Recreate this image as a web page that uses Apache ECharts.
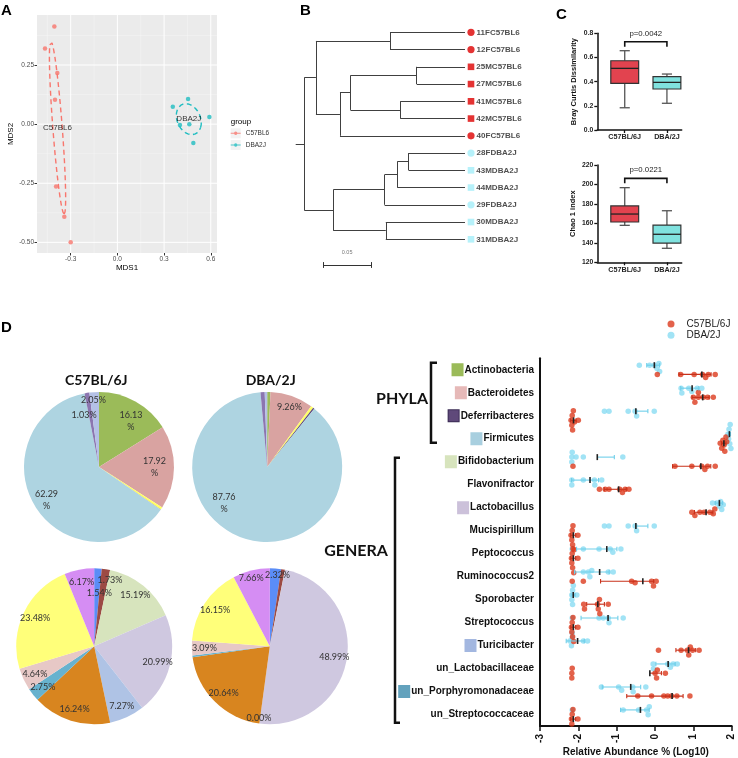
<!DOCTYPE html>
<html><head><meta charset="utf-8">
<script src="https://cdn.jsdelivr.net/npm/echarts@6/dist/echarts.min.js"></script>
<style>html,body{margin:0;padding:0;background:#fff}#c{width:738px;height:758px}</style>
</head><body><div id="c"></div>
<script>
// ---------------- DATA ----------------
// Panel A (MDS)
const mdsC57 = [[-0.405,0.413],[-0.465,0.320],[-0.386,0.216],[-0.401,0.103],[-0.394,-0.264],[-0.341,-0.392],[-0.300,-0.500]];
const mdsDBA = [[0.356,0.074],[0.454,0.106],[0.591,0.030],[0.402,-0.004],[0.462,0.000],[0.488,-0.080]];
const mdsXTicks = [-0.3, 0, 0.3, 0.6];
const mdsYTicks = [-0.5, -0.25, 0, 0.25];
const mdsGroups = ['C57BL6','DBA2J'];

// Panel B (dendrogram): tips top-to-bottom, nodes = [height, child, child...]
const treeTips = ['11FC57BL6','12FC57BL6','25MC57BL6','27MC57BL6','41MC57BL6','42MC57BL6','40FC57BL6','28FDBA2J','43MDBA2J','44MDBA2J','29FDBA2J','30MDBA2J','31MDBA2J'];
const treeNodes = [0.1684,
  [0.1562, [0.0786, 0, 1], [0.131, [0.120, [0.0506, 2, 3], [0.0678, 4, 5]], 6]],
  [0.138, [0.0842, [0.071, [0.059, 7, 8], 9], 10], [0.083, 11, 12]]];
const rootEdge = 0.009;
const scaleBarLen = 0.05;

// Panel C (box plots): [min, Q1, median, Q3, max]
const boxGroups = ['C57BL/6J','DBA/2J'];
const brayBox = [[0.184,0.386,0.510,0.573,0.656],[0.221,0.339,0.394,0.441,0.463]];
const chaoBox = [[158.0,161.4,169.6,177.9,196.7],[134.4,139.8,148.8,158.3,173.0]];
const brayP = 'p=0.0042', brayBracket = [0.730, 0.689];
const chaoP = 'p=0.0221', chaoBracket = [206.3, 201.2];

// Panel D pies (%)
const phylaNames = ['Actinobacteria','Bacteroidetes','Other phylum','Deferribacteres','Firmicutes','Other phylum 2','Other phylum 3'];
const phylaC57 = [16.13, 17.92, 0.56, 0.01, 62.29, 1.03, 2.05];
const phylaDBA = [0.70, 9.26, 0.55, 0.30, 87.76, 0.90, 0.53];
const generaNames = ['Other genus 1','Other genus 2','Bifidobacterium','Lactobacillus','Turicibacter','Other genus 3','un_Porphyromonadaceae','Other genus 4','Other genus 5','Other genus 6'];
const generaC57 = [1.54, 1.73, 15.19, 20.99, 7.27, 16.24, 2.75, 4.64, 23.48, 6.17];
const generaDBA = [2.32, 0.80, 0.03, 48.99, 0.00, 20.64, 0.32, 3.09, 16.15, 7.66];

// Panel D dot plot (log10 relative abundance)
const dotCats = ['Actinobacteria','Bacteroidetes','Deferribacteres','Firmicutes','Bifidobacterium','Flavonifractor','Lactobacillus','Mucispirillum','Peptococcus','Ruminococcus2','Sporobacter','Streptococcus','Turicibacter','un_Lactobacillaceae','un_Porphyromonadaceae','un_Streptococcaceae'];
const dotDBA = [
  [-0.41,-0.14,-0.02,0.05,0.10,0.12],
  [0.68,0.70,0.88,0.96,1.10,1.22],
  [-1.32,-1.20,-0.70,-0.52,-0.48,-0.02],
  [1.90,1.92,1.93,1.95,1.96,1.98],
  [-2.17,-2.17,-2.16,-2.06,-1.87,-0.84],
  [-2.17,-2.17,-1.87,-1.58,-1.57,-1.39],
  [1.50,1.61,1.68,1.71,1.74,1.78],
  [-1.32,-1.20,-0.70,-0.52,-0.48,-0.02],
  [-2.16,-1.87,-1.46,-1.17,-1.10,-0.89],
  [-1.87,-1.74,-1.70,-1.65,-1.22,-1.09],
  [-2.17,-2.17,-2.15,-2.15,-2.13,-2.04],
  [-2.16,-1.46,-1.35,-1.22,-1.20,-0.83],
  [-2.22,-2.18,-2.16,-2.16,-1.87,-1.76],
  [-0.05,-0.04,0.33,0.40,0.47,0.58],
  [-1.40,-0.95,-0.87,-0.58,-0.57,-0.24],
  [-2.16,-0.83,-0.43,-0.22,-0.18,-0.15]
];
const dotC57 = [
  [0.06,0.67,1.02,1.24,1.32,1.39,1.57],
  [1.00,1.04,1.13,1.13,1.26,1.37,1.52],
  [-2.19,-2.17,-2.16,-2.15,-2.13,-2.10,-2.00],
  [1.70,1.74,1.77,1.80,1.82,1.85,1.87],
  [-2.14,0.52,0.96,1.22,1.30,1.37,1.57],
  [-1.45,-1.30,-1.20,-0.92,-0.85,-0.78,-0.68],
  [0.96,1.04,1.17,1.28,1.43,1.52,1.56],
  [-2.19,-2.17,-2.16,-2.15,-2.14,-2.11,-2.01],
  [-2.18,-2.17,-2.16,-2.15,-2.14,-2.12,-2.01],
  [-2.16,-1.87,-0.61,-0.52,-0.09,-0.04,0.03],
  [-1.86,-1.84,-1.50,-1.48,-1.45,-1.44,-1.22],
  [-2.18,-2.17,-2.16,-2.15,-2.14,-2.12,-2.01],
  [0.09,0.68,0.84,0.88,0.92,0.98,1.15],
  [-2.17,-2.17,-2.16,0.00,0.04,0.06,0.27],
  [-0.45,-0.09,0.23,0.33,0.43,0.57,0.91],
  [-2.18,-2.17,-2.16,-2.16,-2.14,-2.12,-2.01]
];
const dotGroups = ['C57BL/6J','DBA/2J'];

// ---------------- STYLE ----------------
const RED_A = '#F8766D', TEAL_A = '#1FBDC1';
const RED_D = '#DC3B1E', CYAN_D = '#8ADCF3';
const phylaColors = ['#9BBB59','#D9A3A1','#FFFF66','#5F497A','#AED4E1','#8C76B0','#B4C1E6'];
const generaColors = ['#5B8DF7','#9C4A44','#D7E4BD','#CFC8E0','#AFC3E5','#D8851F','#67B2CE','#E7C8C6','#FFFF7A','#D58DF3'];
const squareColors = {Actinobacteria:'#9BBB59', Bacteroidetes:'#E6B9B8', Deferribacteres:'#5F497A', Firmicutes:'#A8CFDF', Bifidobacterium:'#D7E4BD', Lactobacillus:'#CCC1DA', Turicibacter:'#A3B7E0', un_Porphyromonadaceae:'#63A2BD'};
const boxColors = ['#E2434F','#80E2DF'];
const FONT = 'Liberation Sans, Arial, sans-serif';
const CAL = 'Lato, Carlito, sans-serif';

// ---------------- HELPERS ----------------
function sdEllipse(pts, n) {
  const m = pts.length;
  const mx = pts.reduce((s,p)=>s+p[0],0)/m, my = pts.reduce((s,p)=>s+p[1],0)/m;
  let sxx=0, syy=0, sxy=0;
  pts.forEach(p=>{sxx+=(p[0]-mx)**2; syy+=(p[1]-my)**2; sxy+=(p[0]-mx)*(p[1]-my);});
  sxx/=(m-1); syy/=(m-1); sxy/=(m-1);
  const tr=sxx+syy, det=sxx*syy-sxy*sxy, d=Math.sqrt(Math.max(tr*tr/4-det,0));
  const l1=tr/2+d, l2=Math.max(tr/2-d,0);
  const th=0.5*Math.atan2(2*sxy, sxx-syy);
  const out=[];
  for(let k=0;k<=n;k++){
    const t=2*Math.PI*k/n, a=Math.sqrt(l1)*Math.cos(t), b=Math.sqrt(l2)*Math.sin(t);
    out.push([mx+a*Math.cos(th)-b*Math.sin(th), my+a*Math.sin(th)+b*Math.cos(th)]);
  }
  return {pts: out, center: [mx, my]};
}
function minors(ticks, lo, hi) {
  const st = ticks[1]-ticks[0], r=[];
  ticks.forEach(t=>r.push(t-st/2)); r.push(ticks[ticks.length-1]+st/2);
  return r.filter(v=>v>lo && v<hi);
}
function layoutTree(node, segs) {
  if (typeof node === 'number') return {y: node, h: 0};
  const h = node[0];
  const kids = node.slice(1).map(k => layoutTree(k, segs));
  const y = (kids[0].y + kids[kids.length-1].y)/2;
  segs.push([[h, kids[0].y],[h, kids[kids.length-1].y]]);
  kids.forEach(k => segs.push([[h, k.y],[k.h, k.y]]));
  return {y, h};
}
function swarm(vals, base, pxX, pxY) {
  const minD = 3.8, step = 1.6, placed = [], out = new Array(vals.length);
  const order = vals.map((v,i)=>i).sort((a,b)=>vals[a]-vals[b]);
  order.forEach(i=>{
    const x = vals[i]*pxX; let k=0, dy=0;
    for(;;){
      dy = k===0 ? 0 : (k%2 ? 1 : -1)*Math.ceil(k/2)*step;
      if (placed.every(p=>Math.hypot(p[0]-x,p[1]-dy)>=minD)) break;
      k++;
    }
    placed.push([x,dy]); out[i]=[vals[i], base+dy/pxY];
  });
  return out;
}
function linSummary(vals) {
  const lin = vals.map(v=>Math.pow(10,v)), n=lin.length;
  const m = lin.reduce((a,b)=>a+b,0)/n;
  const sd = Math.sqrt(lin.reduce((a,b)=>a+(b-m)**2,0)/(n-1));
  const ok = m-sd>0 ? 1 : 0;
  return [ok?Math.log10(m-sd):Math.log10(m), Math.log10(m), Math.log10(m+sd), ok];
}

// ---------------- DERIVED ----------------
const A_X = [-0.5165, 0.64], A_Y = [-0.545, 0.4615];
const ellC57 = sdEllipse(mdsC57, 90), ellDBA = sdEllipse(mdsDBA, 90);
// gridlines: [value, direction(0 vertical / 1 horizontal), major]
const gridLinesA = [];
minors(mdsXTicks, A_X[0], A_X[1]).forEach(v=>gridLinesA.push([v,0,0]));
minors(mdsYTicks, A_Y[0], A_Y[1]).forEach(v=>gridLinesA.push([v,1,0]));
mdsXTicks.forEach(v=>gridLinesA.push([v,0,1]));
mdsYTicks.forEach(v=>gridLinesA.push([v,1,1]));

const treeSegs = [];
const treeRoot = layoutTree(treeNodes, treeSegs);
treeSegs.push([[treeRoot.h+rootEdge, treeRoot.y],[treeRoot.h, treeRoot.y]]);
const treeMax = treeRoot.h + rootEdge;
const sbX = 0.1485, sbY = 13.49;
const scaleSegs = [
  [[sbX, sbY],[sbX-scaleBarLen, sbY]],
  [[sbX, sbY-0.17],[sbX, sbY+0.17]],
  [[sbX-scaleBarLen, sbY-0.17],[sbX-scaleBarLen, sbY+0.17]]
];

const D_GRID = {left:540, top:358.3, width:191.7, height:367.7};
const pxX = D_GRID.width/5, pxY = D_GRID.height/dotCats.length;
const swC57 = [], swDBA = [], errData = [];
dotCats.forEach((c,i)=>{
  swarm(dotDBA[i], i-0.2, pxX, pxY).forEach(p=>swDBA.push(p));
  swarm(dotC57[i], i+0.2, pxX, pxY).forEach(p=>swC57.push(p));
  const sd = linSummary(dotDBA[i]); errData.push([sd[0],sd[1],sd[2],i-0.2,1,sd[3]]);
  const sc = linSummary(dotC57[i]); errData.push([sc[0],sc[1],sc[2],i+0.2,0,sc[3]]);
});

// ---------------- RENDERERS ----------------
function gridRender(params, api) {
  const v = api.value(0), dir = api.value(1), major = api.value(2);
  const cs = params.coordSys;
  let shape;
  if (dir === 0) { const p = api.coord([v, A_Y[0]]); shape = {x1:p[0], y1:cs.y, x2:p[0], y2:cs.y+cs.height}; }
  else { const p = api.coord([A_X[0], v]); shape = {x1:cs.x, y1:p[1], x2:cs.x+cs.width, y2:p[1]}; }
  return {type:'line', shape:shape, style:{stroke: major ? '#FFFFFF' : '#F6F6F6', lineWidth: major ? 1 : 0.5}};
}
function boxRender(params, api) {
  const x = api.value(0), v=[1,2,3,4,5].map(k=>api.value(k)), hw=0.33, cw=0.12;
  const L = api.coord([x-hw, v[3]]), R = api.coord([x+hw, v[1]]);
  const md = api.coord([x, v[2]]), lo = api.coord([x, v[0]]), hi = api.coord([x, v[4]]);
  const q1 = api.coord([x, v[1]]), q3 = api.coord([x, v[3]]);
  const cl = api.coord([x-cw, v[0]])[0], cr = api.coord([x+cw, v[0]])[0];
  const ws = {stroke:'#555', lineWidth:1.3};
  return {type:'group', children:[
    {type:'line', shape:{x1:lo[0],y1:lo[1],x2:q1[0],y2:q1[1]}, style:ws},
    {type:'line', shape:{x1:q3[0],y1:q3[1],x2:hi[0],y2:hi[1]}, style:ws},
    {type:'line', shape:{x1:cl,y1:lo[1],x2:cr,y2:lo[1]}, style:ws},
    {type:'line', shape:{x1:cl,y1:hi[1],x2:cr,y2:hi[1]}, style:ws},
    {type:'rect', shape:{x:L[0],y:L[1],width:R[0]-L[0],height:R[1]-L[1]}, style:{fill:boxColors[params.dataIndex], stroke:'#333', lineWidth:1.2}},
    {type:'line', shape:{x1:L[0],y1:md[1],x2:R[0],y2:md[1]}, style:{stroke:'#222', lineWidth:1.3}}
  ]};
}
function bracketRender(txt) {
  return function(params, api) {
    const x1=api.value(0), x2=api.value(1), y=api.value(2), yd=api.value(3);
    const a=api.coord([x1,yd]), b=api.coord([x1,y]), c=api.coord([x2,y]), d=api.coord([x2,yd]);
    return {type:'group', children:[
      {type:'polyline', shape:{points:[a,b,c,d]}, style:{stroke:'#111', lineWidth:1.6, fill:null}},
      {type:'text', x:(b[0]+c[0])/2, y:b[1]-4, style:{text:txt, align:'center', verticalAlign:'bottom', fontSize:7.8, fontFamily:FONT, fill:'#222'}}
    ]};
  };
}
function errRender(params, api) {
  const lo=api.value(0), mid=api.value(1), hi=api.value(2), y=api.value(3), g=api.value(4), ok=api.value(5);
  const col = g ? '#6FCFEA' : '#C8311A';
  const pm=api.coord([mid,y]), ph=api.coord([hi,y]), pl=api.coord([lo,y]);
  const ch = [
    {type:'line', shape:{x1:pl[0],y1:pl[1],x2:ph[0],y2:ph[1]}, style:{stroke:col,lineWidth:1.1}},
    {type:'line', shape:{x1:ph[0],y1:ph[1]-2.2,x2:ph[0],y2:ph[1]+2.2}, style:{stroke:col,lineWidth:1.1}}
  ];
  if (ok) ch.push({type:'line', shape:{x1:pl[0],y1:pl[1]-2.2,x2:pl[0],y2:pl[1]+2.2}, style:{stroke:col,lineWidth:1.1}});
  ch.push({type:'line', shape:{x1:pm[0],y1:pm[1]-3,x2:pm[0],y2:pm[1]+3}, style:{stroke:'#222',lineWidth:1.6}});
  return {type:'group', children:ch};
}

// ---------------- PIES ----------------
function pieSeries(name, names, vals, colors, center, r, ringInner, show, wrap, nudge) {
  const data = names.map((n,i)=>({name:n, value:vals[i], itemStyle:{color:colors[i]}}));
  return [
    {type:'pie', name:name, center:center, radius:[0,r], data:data, label:{show:false}, labelLine:{show:false},
     silent:true, startAngle:90, clockwise:true, itemStyle:{borderWidth:0}, emphasis:{disabled:true}, z:2},
    {type:'pie', name:name+' labels', center:center, radius:[ringInner,r], startAngle:90, clockwise:true,
     data: names.map((n,i)=>({name:n, value:vals[i]})), silent:true, emphasis:{disabled:true}, z:3,
     itemStyle:{color:'rgba(0,0,0,0)', borderWidth:0}, avoidLabelOverlap:false, labelLine:{show:false},
     label:{show:true, position:'inside', fontFamily:CAL, fontSize:9, color:'#333', lineHeight:12,
       formatter:p=> show[p.dataIndex] ? (p.value.toFixed(2) + (wrap[p.dataIndex] ? '\n%' : '%')) : ''},
     labelLayout: p => { const nd = nudge[p.dataIndex]; return nd ? {dx:nd[0], dy:nd[1]} : {}; }}
  ];
}

// ---------------- OPTION ----------------
const richSq = {t:{fontSize:10, fontWeight:'bold', color:'#111', fontFamily:FONT, padding:[0,0,0,2]}};
dotCats.forEach((c,i)=>{ if (squareColors[c]) richSq['s'+i] = {width:10, height:11, backgroundColor:squareColors[c], borderColor: c==='Deferribacteres' ? '#3B2C55' : squareColors[c], borderWidth:1}; });

const legendIcon = 'path://M0,0h0.01v0.01h-0.01z M0,9.99h0.01v0.01h-0.01z M0,4.5h10v1h-10z M3.3,5a1.7,1.7 0 1,1 3.4,0a1.7,1.7 0 1,1 -3.4,0z';

const blackAxis = {onZero:false, lineStyle:{color:'#111', width:1.5}};
const option = {
  animation:false,
  textStyle:{fontFamily:FONT},
  grid:[
    {left:37, top:15, width:180, height:238, show:true, backgroundColor:'#EBEBEB', borderWidth:0},
    {left:295.7, top:23.7, width:169.3, height:250.1},
    {left:597.3, top:33.3, width:84.4, height:96.7},
    {left:597.3, top:165, width:84.4, height:97.3},
    D_GRID
  ],
  xAxis:[
    {gridIndex:0, type:'value', min:A_X[0], max:A_X[1], axisLine:{show:false, onZero:false}, splitLine:{show:false},
     axisTick:{show:true, customValues:mdsXTicks, length:2.5, lineStyle:{color:'#333'}},
     axisLabel:{customValues:mdsXTicks, fontSize:6.5, color:'#4D4D4D', margin:3, formatter:v=>v.toFixed(1)},
     name:'MDS1', nameLocation:'middle', nameGap:11, nameTextStyle:{fontSize:8, color:'#000'}},
    {gridIndex:1, type:'value', min:0, max:treeMax, inverse:true, show:false},
    {gridIndex:2, type:'value', min:0.35, max:2.35, splitLine:{show:false}, axisLine:blackAxis,
     axisTick:{customValues:[1,2], length:3, lineStyle:{color:'#111', width:1.3}},
     axisLabel:{customValues:[1,2], formatter:v=>boxGroups[Math.round(v)-1], fontSize:7.2, fontWeight:'bold', color:'#222', margin:4}},
    {gridIndex:3, type:'value', min:0.35, max:2.35, splitLine:{show:false}, axisLine:blackAxis,
     axisTick:{customValues:[1,2], length:3, lineStyle:{color:'#111', width:1.3}},
     axisLabel:{customValues:[1,2], formatter:v=>boxGroups[Math.round(v)-1], fontSize:7.2, fontWeight:'bold', color:'#222', margin:4}},
    {gridIndex:4, type:'value', min:-3, max:2, interval:1, splitLine:{show:false}, position:'bottom',
     axisLine:{onZero:false, lineStyle:{color:'#111', width:2}}, axisTick:{length:5, lineStyle:{color:'#111', width:1.5}},
     axisLabel:{rotate:90, fontSize:10, fontWeight:'bold', color:'#111', margin:8},
     name:'Relative Abundance % (Log10)', nameLocation:'middle', nameGap:19, nameTextStyle:{fontSize:10, fontWeight:'bold', color:'#111'}}
  ],
  yAxis:[
    {gridIndex:0, type:'value', min:A_Y[0], max:A_Y[1], axisLine:{show:false, onZero:false}, splitLine:{show:false},
     axisTick:{show:true, customValues:mdsYTicks, length:2.5, lineStyle:{color:'#333'}},
     axisLabel:{customValues:mdsYTicks, fontSize:6.5, color:'#4D4D4D', margin:3, formatter:v=>v.toFixed(2)},
     name:'MDS2', nameLocation:'middle', nameGap:21, nameTextStyle:{fontSize:8, color:'#000'}},
    {gridIndex:1, type:'value', min:-0.5, max:14, inverse:true, show:false},
    {gridIndex:2, type:'value', min:0, max:0.8, interval:0.2, splitLine:{show:false}, axisLine:{show:true, onZero:false, lineStyle:{color:'#111', width:1.5}},
     axisTick:{show:true, length:3, lineStyle:{color:'#111', width:1.3}},
     axisLabel:{fontSize:6.8, fontWeight:'bold', color:'#222', margin:4, formatter:v=>v.toFixed(1)},
     name:'Bray Curtis Dissimilarity', nameLocation:'middle', nameGap:19, nameTextStyle:{fontSize:7.5, fontWeight:'bold', color:'#111'}},
    {gridIndex:3, type:'value', min:120, max:220, interval:20, splitLine:{show:false}, axisLine:{show:true, onZero:false, lineStyle:{color:'#111', width:1.5}},
     axisTick:{show:true, length:3, lineStyle:{color:'#111', width:1.3}},
     axisLabel:{fontSize:6.8, fontWeight:'bold', color:'#222', margin:4},
     name:'Chao 1 index', nameLocation:'middle', nameGap:20, nameTextStyle:{fontSize:7.5, fontWeight:'bold', color:'#111'}},
    {gridIndex:4, type:'category', data:dotCats, inverse:true, position:'left',
     axisLine:{onZero:false, lineStyle:{color:'#111', width:2}}, axisTick:{alignWithLabel:true, length:4, lineStyle:{color:'#111', width:1.5}},
     axisLabel:{margin:6, formatter:(v,i)=> (squareColors[v] ? '{s'+i+'|}' : '') + '{t|'+v+'}', rich:richSq}},
    {gridIndex:4, type:'value', min:-0.5, max:dotCats.length-0.5, inverse:true, show:false, position:'right', axisLine:{onZero:false}}
  ],
  legend:[
    {data:mdsGroups, orient:'vertical', left:230.7, top:128.3, itemWidth:10, itemHeight:10, itemGap:1.7, padding:0,
     icon:legendIcon, textStyle:{fontSize:6.5, color:'#333'}, selectedMode:false},
    {data:dotGroups, orient:'vertical', left:667.5, top:319, itemWidth:7, itemHeight:7, itemGap:1.3, padding:0,
     icon:'circle', textStyle:{fontSize:10, color:'#222', padding:[0,0,0,7]}, selectedMode:false}
  ],
  series:[
    // A
    {type:'custom', name:'gridA', xAxisIndex:0, yAxisIndex:0, data:gridLinesA, renderItem:gridRender, silent:true, z:1,
     encode:{x:0, y:1}},
    {type:'scatter', name:mdsGroups[0], xAxisIndex:0, yAxisIndex:0, data:mdsC57, symbolSize:4.5, itemStyle:{color:RED_A}, z:4},
    {type:'scatter', name:mdsGroups[1], xAxisIndex:0, yAxisIndex:0, data:mdsDBA, symbolSize:4.5, itemStyle:{color:TEAL_A}, z:4},
    {type:'line', name:mdsGroups[0], xAxisIndex:0, yAxisIndex:0, data:ellC57.pts, showSymbol:false, smooth:false, silent:true,
     lineStyle:{color:RED_A, width:1.4, type:[5,3.5]}, z:3},
    {type:'line', name:mdsGroups[1], xAxisIndex:0, yAxisIndex:0, data:ellDBA.pts, showSymbol:false, smooth:false, silent:true,
     lineStyle:{color:TEAL_A, width:1.4, type:[5,3.5]}, z:3},
    {type:'scatter', name:mdsGroups[0], xAxisIndex:0, yAxisIndex:0, data:[ellC57.center], symbolSize:0, silent:true, z:5,
     label:{show:true, position:'inside', formatter:mdsGroups[0], fontSize:8, color:'#000'}},
    {type:'scatter', name:mdsGroups[1], xAxisIndex:0, yAxisIndex:0, data:[ellDBA.center], symbolSize:0, silent:true, z:5,
     label:{show:true, position:'inside', formatter:mdsGroups[1], fontSize:8, color:'#000'}},
    // B
    {type:'lines', name:'tree', coordinateSystem:'cartesian2d', xAxisIndex:1, yAxisIndex:1, polyline:false, silent:true,
     data:treeSegs.map(s=>({coords:s})), lineStyle:{color:'#404040', width:1, opacity:1}},
    {type:'lines', name:'scalebar', coordinateSystem:'cartesian2d', xAxisIndex:1, yAxisIndex:1, polyline:false, silent:true,
     data:scaleSegs.map(s=>({coords:s})), lineStyle:{color:'#333', width:1, opacity:1}},
    {type:'scatter', name:'scalebar label', xAxisIndex:1, yAxisIndex:1, data:[[sbX-scaleBarLen/2, sbY-0.7]], symbolSize:0, silent:true,
     label:{show:true, position:'inside', formatter:String(scaleBarLen), fontSize:5.5, color:'#555'}},
    {type:'scatter', name:'tips', xAxisIndex:1, yAxisIndex:1, clip:false, silent:true,
     data:treeTips.map((t,i)=>({name:t, value:[0,i], symbol:/^\d+F/.test(t)?'circle':'rect', symbolSize:/^\d+F/.test(t)?7.2:6.6,
       itemStyle:{color:t.indexOf('C57')>=0?'#DD0000':'#A4EEF9'}})),
     symbolOffset:[6,0],
     label:{show:true, position:'right', distance:2, formatter:p=>p.name, fontSize:8, fontWeight:'bold', color:'#222'}},
    // C
    {type:'custom', name:'Bray box', xAxisIndex:2, yAxisIndex:2, renderItem:boxRender, silent:true,
     data:brayBox.map((b,i)=>[i+1].concat(b)), encode:{x:0, y:[1,5]}},
    {type:'custom', name:'Bray p', xAxisIndex:2, yAxisIndex:2, renderItem:bracketRender(brayP), silent:true,
     data:[[1,2,brayBracket[0],brayBracket[1]]], encode:{x:[0,1], y:[2,3]}},
    {type:'custom', name:'Chao box', xAxisIndex:3, yAxisIndex:3, renderItem:boxRender, silent:true,
     data:chaoBox.map((b,i)=>[i+1].concat(b)), encode:{x:0, y:[1,5]}},
    {type:'custom', name:'Chao p', xAxisIndex:3, yAxisIndex:3, renderItem:bracketRender(chaoP), silent:true,
     data:[[1,2,chaoBracket[0],chaoBracket[1]]], encode:{x:[0,1], y:[2,3]}},
    // D dot plot
    {type:'scatter', name:dotGroups[1], xAxisIndex:4, yAxisIndex:5, data:swDBA, symbolSize:5.5, itemStyle:{color:CYAN_D}, z:3, silent:true},
    {type:'scatter', name:dotGroups[0], xAxisIndex:4, yAxisIndex:5, data:swC57, symbolSize:5.5, itemStyle:{color:RED_D}, z:3, silent:true},
    {type:'custom', name:'error bars', xAxisIndex:4, yAxisIndex:5, renderItem:errRender, silent:true, z:4,
     data:errData, encode:{x:[0,2], y:3}}
  ].concat(
    pieSeries('phylaC57', phylaNames, phylaC57, phylaColors, [99,467], 75, 30, [1,1,0,0,1,1,1], [1,1,0,0,1,0,0],
      {0:[5,3], 4:[-6,3], 5:[-6,3], 6:[-2,-12]}),
    pieSeries('phylaDBA', phylaNames, phylaDBA, phylaColors, [267.2,467], 75, 30, [0,1,0,0,1,0,0], [0,0,0,0,1,0,0],
      {1:[4,-7], 4:[-27,-17]}),
    pieSeries('generaC57', generaNames, generaC57, generaColors, [94.2,646.3], 78, 46.8, [1,1,1,1,1,1,1,1,1,1], [0,0,0,0,0,0,0,0,0,0],
      {0:[2,12], 1:[6,-2]}),
    pieSeries('generaDBA', generaNames, generaDBA, generaColors, [269.8,646.3], 78, 46.8, [1,0,0,1,1,1,0,1,1,1], [0,0,0,0,0,0,0,0,0,0],
      {0:[3,-6], 4:[-2,7], 9:[-3,-5]})
  ),
  graphic:[
    {type:'text', x:1, y:3, style:{text:'A', font:'bold 15px '+FONT, fill:'#000'}},
    {type:'text', x:300, y:3.5, style:{text:'B', font:'bold 15px '+FONT, fill:'#000'}},
    {type:'text', x:556, y:7.5, style:{text:'C', font:'bold 15px '+FONT, fill:'#000'}},
    {type:'text', x:1, y:320.5, style:{text:'D', font:'bold 15px '+FONT, fill:'#000'}},
    {type:'text', x:230.7, y:122, style:{text:'group', font:'8px '+FONT, fill:'#000', verticalAlign:'middle'}},
    {type:'rect', shape:{x:230.7, y:128.3, width:10, height:10}, style:{fill:'#F2F2F2'}, z:-1},
    {type:'rect', shape:{x:230.7, y:140, width:10, height:10}, style:{fill:'#F2F2F2'}, z:-1},
    {type:'text', x:96.3, y:380, style:{text:'C57BL/6J', font:'bold 14px '+CAL, fill:'#111', align:'center', verticalAlign:'middle'}},
    {type:'text', x:270.7, y:380, style:{text:'DBA/2J', font:'bold 14px '+CAL, fill:'#111', align:'center', verticalAlign:'middle'}},
    {type:'text', x:402, y:399, style:{text:'PHYLA', font:'bold 16px '+CAL, fill:'#111', align:'center', verticalAlign:'middle'}},
    {type:'text', x:356, y:551, style:{text:'GENERA', font:'bold 16px '+CAL, fill:'#111', align:'center', verticalAlign:'middle'}},
    {type:'polyline', shape:{points:[[437,362.7],[431,362.7],[431,442.7],[437,442.7]]}, style:{stroke:'#111', lineWidth:2.5, fill:null}},
    {type:'polyline', shape:{points:[[400,457.7],[395,457.7],[395,722.7],[400,722.7]]}, style:{stroke:'#111', lineWidth:2.5, fill:null}}
  ]
};
const chart = echarts.init(document.getElementById('c'), null, {renderer:'canvas', width:738, height:758});
chart.setOption(option);
</script></body></html>
